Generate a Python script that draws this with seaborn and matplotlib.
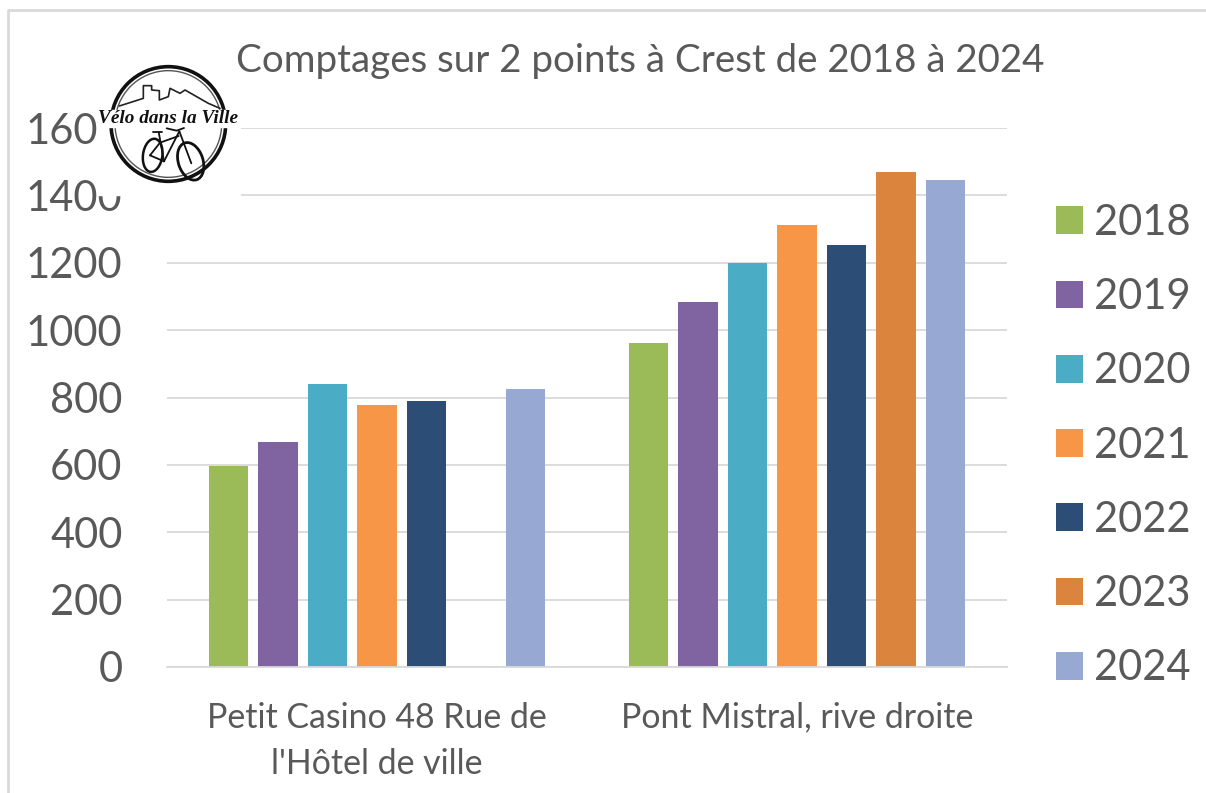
import matplotlib
matplotlib.use('Agg')
import numpy as np
import pandas as pd
import seaborn as sns
import matplotlib.pyplot as plt
from matplotlib.patches import Circle, Ellipse, Rectangle

# Valeurs
points = ['Petit Casino 48 Rue de\nl\'Hôtel de ville', 'Pont Mistral, rive droite']
years = ['2018', '2019', '2020', '2021', '2022', '2023', '2024']
petit_casino = [598, 669, 840, 779, 791, np.nan, 826]
pont_mistral = [963, 1084, 1200, 1312, 1252, 1468, 1446]
colors = ['#9BBB59', '#8064A2', '#4BACC6', '#F79646', '#2C4D75', '#DB843D', '#97A9D2']
yticks = [0, 200, 400, 600, 800, 1000, 1200, 1400, 1600]
title = 'Comptages sur 2 points à Crest de 2018 à 2024'

W, H = 1206, 793
GREY = '#595959'
LIGHT = '#D9D9D9'

sns.set_theme(style='white')
plt.rcParams['font.family'] = ['Lato', 'DejaVu Sans']

df = pd.DataFrame({
    'point': [points[0]] * 7 + [points[1]] * 7,
    'year': years + years,
    'count': petit_casino + pont_mistral,
})

fig = plt.figure(figsize=(W / 100, H / 100), dpi=100, facecolor='white')
ax = fig.add_axes([167 / W, (H - 667) / H, 840 / W, 539 / H])
sns.barplot(data=df, x='point', y='count', hue='year', palette=colors, saturation=1,
            width=0.825, gap=0.2, linewidth=0, ax=ax)

ax.set_ylim(0, 1600)
ax.set_xlim(-0.5, 1.5)
ax.set_yticks(yticks)
ax.set_xlabel('')
ax.set_ylabel('')
ax.yaxis.grid(True, color=LIGHT, linewidth=1.3)
ax.set_axisbelow(True)
sns.despine(ax=ax, left=True, right=True, top=True)
ax.spines['bottom'].set_color(LIGHT)
ax.spines['bottom'].set_linewidth(1.3)
ax.tick_params(axis='y', labelsize=30, labelcolor=GREY, length=0, pad=32)
ax.tick_params(axis='x', labelsize=24.4, labelcolor=GREY, length=0, pad=25)
for lab in ax.get_xticklabels():
    lab.set_linespacing(1.55)

handles, labels = ax.get_legend_handles_labels()
ax.legend(handles, labels, loc='center left', bbox_to_anchor=(889 / 840, 0.4105), frameon=False,
          fontsize=30, labelcolor=GREY, handlelength=0.648, handleheight=0.648,
          handletextpad=0.26, labelspacing=0.87, borderpad=0, borderaxespad=0)

fig.text(640 / W, 1 - 61 / H, title, fontsize=27.7, color=GREY, ha='center', va='center')

# Calque en pixels pour le cadre, le masque blanc et le logo
over = fig.add_axes([0, 0, 1, 1], facecolor='none')
over.set_xlim(0, W)
over.set_ylim(H, 0)
over.axis('off')
over.plot([8, 8, W], [H, 10, 10], color=LIGHT, linewidth=2)
over.add_patch(Rectangle((98, 40), 142, 154.5, color='white', zorder=2))

# Logo, coordonnees du zoom x3
logo = over.inset_axes([0, 0, 1, 1], transform=over.transAxes)
logo.set_xlim(0, W * 3)
logo.set_ylim(H * 3, 0)
logo.axis('off')
logo.patch.set_alpha(0)
logo.set_zorder(3)
logo.add_patch(Circle((505, 372), 172, fill=False, ec='#111111', lw=2.6))
logo.add_patch(Circle((505, 372), 160, fill=False, ec='#555555', lw=1))
skyline = [(358, 318), (430, 295), (430, 257), (455, 257), (455, 270), (478, 272), (478, 300),
           (505, 290), (510, 265), (540, 280), (555, 270), (590, 290), (625, 310), (660, 325)]
logo.plot(*zip(*skyline), color='#222222', lw=1.2)
logo.add_patch(Rectangle((300, 330), 412, 50, color='white'))
logo.text(505, 356, 'Vélo dans la Ville', family='Liberation Serif', style='italic', weight='bold',
          fontsize=13.9, color='#111111', ha='center', va='center')
logo.add_patch(Ellipse((458, 466), 58, 100, angle=8, fill=False, ec='#111111', lw=1.8))
logo.add_patch(Ellipse((572, 484), 74, 116, angle=-18, fill=False, ec='#111111', lw=2))
for seg in [[(476, 396), (492, 484)], [(492, 484), (538, 394)], [(480, 428), (536, 408)],
            [(450, 466), (492, 484)], [(450, 466), (480, 428)], [(538, 394), (574, 490)],
            [(500, 385), (530, 392), (552, 384)], [(458, 395), (486, 395)]]:
    logo.plot(*zip(*seg), color='#111111', lw=1.3)

fig.savefig('out.png', dpi=100)
